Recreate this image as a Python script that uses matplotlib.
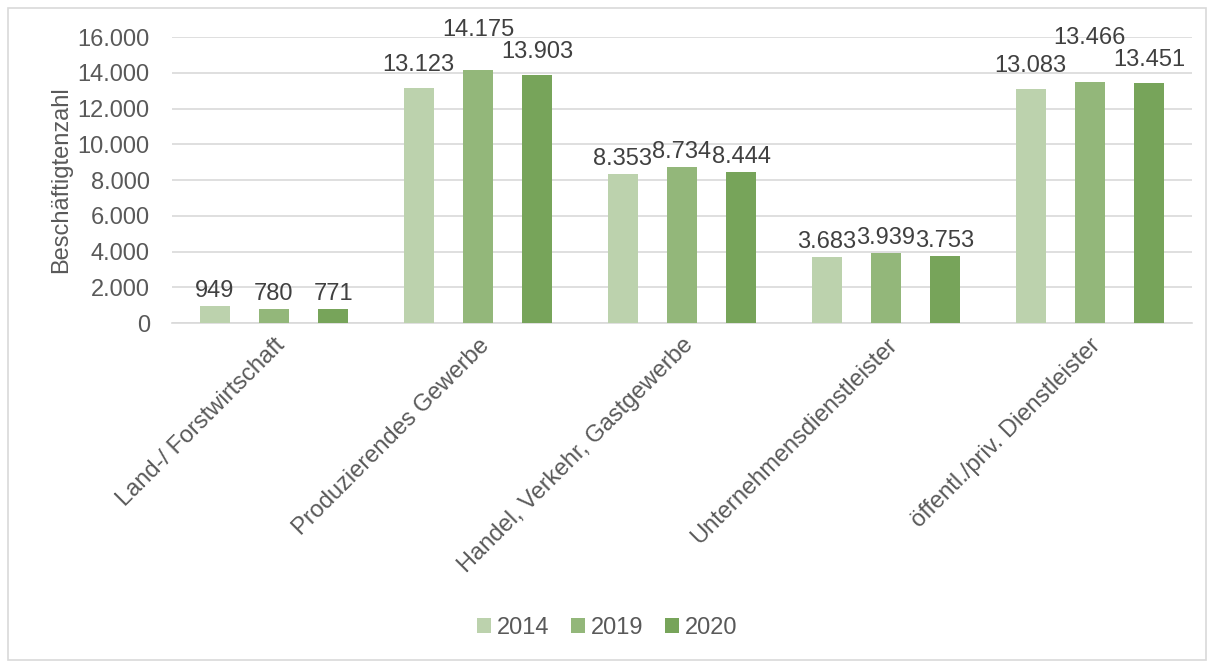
import numpy as np
import matplotlib
matplotlib.use("Agg")
from matplotlib import pyplot as plt
from matplotlib.patches import Rectangle

plt.rcParams['font.family'] = ['Liberation Sans', 'DejaVu Sans']

categories = ["Land-/ Forstwirtschaft", "Produzierendes Gewerbe",
              "Handel, Verkehr, Gastgewerbe", "Unternehmensdienstleister",
              "öffentl./priv. Dienstleister"]
years = ["2014", "2019", "2020"]
v2014 = [949, 13123, 8353, 3683, 13083]
v2019 = [780, 14175, 8734, 3939, 13466]
v2020 = [771, 13903, 8444, 3753, 13451]
colors = ["#bcd2ad", "#93b77a", "#77a45a"]
txt = "#595959"

def fmt(v):
    return f"{v:,}".replace(",", ".")

fig = plt.figure(figsize=(12.14, 6.62), dpi=100)
ax_rect = [0.1417, 0.512, 0.840, 0.432]
ax = fig.add_axes(ax_rect)
ymax = 16000
px_per_unit = ax_rect[3] * 662 / ymax

x = np.arange(len(categories))
step = 0.29
width = 0.147
series = [v2014, v2019, v2020]
for i, vals in enumerate(series):
    ax.bar(x + (i - 1) * step, vals, width, color=colors[i], label=years[i], zorder=3)

# label placement: baseline a little above the bar, crowded high groups pushed up
for j in range(len(categories)):
    vals = [s[j] for s in series]
    base = [9 + (8 if v >= 10000 else 0) for v in vals]
    if min(vals) >= 10000:
        # the middle label must clear the taller neighbour label
        nb = [base[k] + (vals[k] - vals[1]) * px_per_unit for k in (0, 2)]
        base[1] = max(base[1], max(nb) + 22)
    for i, v in enumerate(vals):
        ax.annotate(fmt(v), (x[j] + (i - 1) * step, v), xytext=(0, base[i] * 0.72),
                    textcoords="offset points", ha="center", va="baseline",
                    fontsize=17, color="#404040")

ax.set_xlim(-0.5, len(categories) - 0.5)
ax.set_ylim(0, ymax)
ax.set_yticks(np.arange(0, ymax + 1, 2000))
ax.set_yticklabels([fmt(int(t)) for t in np.arange(0, ymax + 1, 2000)])
ax.yaxis.grid(True, color="#d9d9d9", linewidth=1.2, zorder=0)
ax.set_axisbelow(True)
for s in ["top", "right", "left"]:
    ax.spines[s].set_visible(False)
ax.spines["bottom"].set_color("#d9d9d9")
ax.spines["bottom"].set_linewidth(1.2)
ax.tick_params(axis="y", length=0, labelsize=17, colors=txt, pad=16)
ax.tick_params(axis="x", length=0, labelsize=17, colors=txt, pad=8)
ax.set_xticks(x)
ax.set_xticklabels(categories, rotation=45, ha="right", rotation_mode="anchor")
ax.set_ylabel("Beschäftigtenzahl", fontsize=17, color=txt, labelpad=4)

fig.legend(loc="center", bbox_to_anchor=(0.5, 0.052), ncol=3, frameon=False,
           fontsize=17, labelcolor=txt, handlelength=0.6, handleheight=0.6,
           handletextpad=0.25, columnspacing=0.9)

fig.patches.append(Rectangle((0.007, 0.003), 0.986, 0.985, transform=fig.transFigure,
                             fill=False, edgecolor="#d9d9d9", linewidth=1.2))

fig.savefig("out.png", dpi=100)
